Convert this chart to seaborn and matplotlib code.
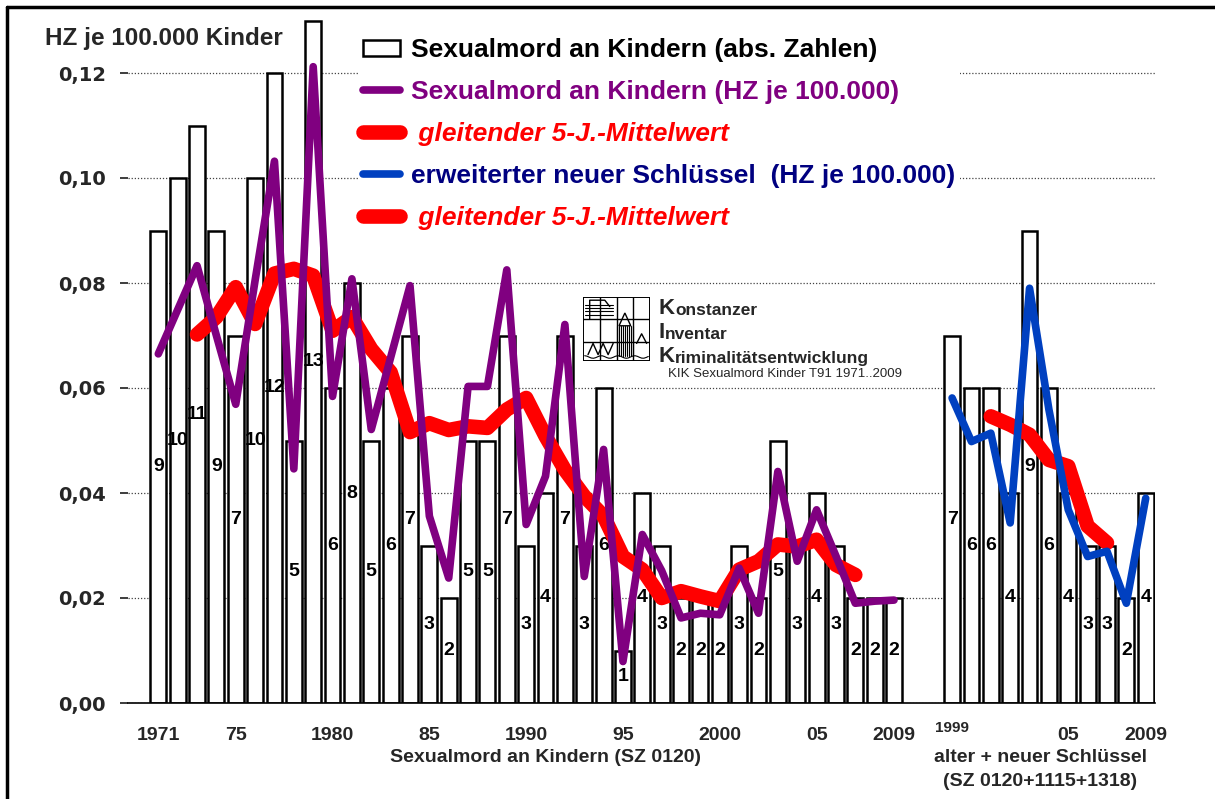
import numpy as np
import pandas as pd
import seaborn as sns
import matplotlib.pyplot as plt
from matplotlib.lines import Line2D
from matplotlib.patches import Patch, Rectangle, Polygon
from matplotlib.transforms import blended_transform_factory


# Sexualmord an Kindern (SZ 0120), 1971..2009
years_old = list(range(1971, 2010))
counts_old = [9, 10, 11, 9, 7, 10, 12, 5, 13, 6,
              8, 5, 6, 7, 3, 2, 5, 5, 7, 3,
              4, 7, 3, 6, 1, 4, 3, 2, 2, 2,
              3, 2, 5, 3, 4, 3, 2, 2, 2]
hz_old = [0.0665, 0.0749, 0.0833, 0.0700, 0.0569, 0.0805, 0.1032, 0.0446, 0.1212, 0.0584,
          0.0808, 0.0521, 0.0658, 0.0795, 0.0356, 0.0238, 0.0603, 0.0603, 0.0825, 0.0340,
          0.0432, 0.0721, 0.0241, 0.0483, 0.0079, 0.0321, 0.0252, 0.0162, 0.0171, 0.0168,
          0.0257, 0.0171, 0.0441, 0.0270, 0.0368, 0.0280, 0.0190, 0.0194, 0.0196]
ma_years_old = list(range(1973, 2008))
ma_old = [0.0702, 0.0735, 0.0792, 0.0722, 0.0818, 0.0827, 0.0814, 0.0709, 0.0735, 0.0674,
          0.0630, 0.0516, 0.0533, 0.0520, 0.0527, 0.0524, 0.0559, 0.0581, 0.0508, 0.0444,
          0.0394, 0.0356, 0.0279, 0.0254, 0.0200, 0.0213, 0.0203, 0.0194, 0.0254, 0.0270,
          0.0302, 0.0298, 0.0311, 0.0263, 0.0244]

# alter + neuer Schluessel (SZ 0120+1115+1318), 1999..2009
years_new = list(range(1999, 2010))
counts_new = [7, 6, 6, 4, 9, 6, 4, 3, 3, 2, 4]
hz_new = [0.0581, 0.0498, 0.0514, 0.0343, 0.0790, 0.0559, 0.0368, 0.0279, 0.0289, 0.0190, 0.0390]
ma_years_new = list(range(2001, 2008))
ma_new = [0.0546, 0.0530, 0.0511, 0.0463, 0.0451, 0.0337, 0.0305]

ytick_vals = [0.00, 0.02, 0.04, 0.06, 0.08, 0.10, 0.12]
xtick_years = [1971, 1975, 1980, 1985, 1990, 1995, 2000, 2005, 2009]
xtick_labels = ['1971', '75', '1980', '85', '1990', '95', '2000', '05', '2009']
xtick_years_new = [2005, 2009]
xtick_labels_new = ['05', '2009']

# Lage der Gruppen auf der x-Achse (2 leere Plaetze dazwischen)
OFFSET_NEW = 41


def pos_old(y):
    return [v - 1971 for v in y]


def pos_new(y):
    return [v - 1999 + OFFSET_NEW for v in y]


sns.set_theme(style="white")
plt.rcParams['font.family'] = ['Liberation Sans', 'DejaVu Sans']

W, H = 1215, 799
fig = plt.figure(figsize=(12.15, 7.99), dpi=100)
ax = fig.add_axes([128 / W, 1 - 703 / H, (1155 - 128) / W, (703 - 15.25) / H])

# Balken (absolute Zahlen)
df_bars = pd.DataFrame({'pos': pos_old(years_old) + pos_new(years_new),
                        'count': counts_old + counts_new})
sns.barplot(data=df_bars, x='pos', y='count', native_scale=True, width=0.82,
            color='white', edgecolor='black', linewidth=1.8, errorbar=None,
            saturation=1, ax=ax, zorder=2)
for p, c in zip(df_bars['pos'], df_bars['count']):
    ax.text(p, c / 2, str(c), ha='center', va='center', fontsize=14,
            fontweight='bold', color='black', zorder=3)

ax.set_ylim(0, 13.1)
ax.set_yticks(range(0, 13, 2))
ax.yaxis.grid(True, linestyle=(0, (1, 1.5)), color='#444444', linewidth=0.9)
ax.xaxis.grid(False)
ax.set_axisbelow(True)
ax.tick_params(axis='y', left=False, labelleft=False)
for s in ['top', 'right', 'left']:
    ax.spines[s].set_visible(False)
ax.spines['bottom'].set_color('black')
ax.spines['bottom'].set_linewidth(1.2)
ax.set_xlabel('')
ax.set_ylabel('')

# Haeufigkeitszahlen
ax2 = ax.twinx()
sns.lineplot(x=pos_old(ma_years_old), y=ma_old, ax=ax2, color='#FF0000', linewidth=10.5,
             solid_capstyle='round', solid_joinstyle='round', estimator=None)
sns.lineplot(x=pos_new(ma_years_new), y=ma_new, ax=ax2, color='#FF0000', linewidth=10.5,
             solid_capstyle='round', solid_joinstyle='round', estimator=None)
sns.lineplot(x=pos_old(years_old), y=hz_old, ax=ax2, color='#800080', linewidth=5.5,
             solid_capstyle='round', solid_joinstyle='round', estimator=None)
sns.lineplot(x=pos_new(years_new), y=hz_new, ax=ax2, color='#0040C0', linewidth=5.5,
             solid_capstyle='round', solid_joinstyle='round', estimator=None)
ax2.set_ylim(0, 0.131)
ax2.yaxis.tick_left()
ax2.set_yticks(ytick_vals)
ax2.set_yticklabels([f'{v:.2f}'.replace('.', ',') for v in ytick_vals],
                    fontsize=14, fontweight='bold', family='DejaVu Sans')
ax2.tick_params(axis='y', length=0, pad=16)
ax2.grid(False)
for s in ax2.spines.values():
    s.set_visible(False)
ax2.set_xlabel('')
ax2.set_ylabel('')

ax.set_xlim(-1.565, 51.48)
ax.set_xticks(pos_old(xtick_years) + pos_new(xtick_years_new))
ax.set_xticklabels(xtick_labels + xtick_labels_new, fontsize=14, fontweight='bold')
ax.tick_params(axis='x', length=0, pad=17)
ax.text(pos_new([1999])[0], 1 - 728 / H, '1999',
        transform=blended_transform_factory(ax.transData, fig.transFigure),
        fontsize=11, fontweight='bold', ha='center', va='center')

# Legende
handles = [Patch(facecolor='white', edgecolor='black', linewidth=1.8),
           Line2D([], [], color='#800080', linewidth=5.5, solid_capstyle='round'),
           Line2D([], [], color='#FF0000', linewidth=10.5, solid_capstyle='round'),
           Line2D([], [], color='#0040C0', linewidth=5.5, solid_capstyle='round'),
           Line2D([], [], color='#FF0000', linewidth=10.5, solid_capstyle='round')]
labels = ['Sexualmord an Kindern (abs. Zahlen)',
          'Sexualmord an Kindern (HZ je 100.000)',
          ' gleitender 5-J.-Mittelwert',
          'erweiterter neuer Schlüssel  (HZ je 100.000)',
          ' gleitender 5-J.-Mittelwert']
leg = ax2.legend(handles, labels, loc='upper left', bbox_to_anchor=(358 / W, 1 - 33 / H),
                 bbox_transform=fig.transFigure, fontsize=19, frameon=True,
                 facecolor='white', edgecolor='none', framealpha=1, fancybox=False,
                 handlelength=1.4, handleheight=0.6, handletextpad=0.4,
                 labelspacing=0.68, borderpad=0.2, borderaxespad=0)
text_colors = ['black', '#800080', '#FF0000', '#000080', '#FF0000']
for t, c in zip(leg.get_texts(), text_colors):
    t.set_color(c)
    t.set_fontweight('bold')
for i in (2, 4):
    leg.get_texts()[i].set_style('italic')

# Titel der y-Achse
fig.text(45 / W, 1 - 38 / H, 'HZ je 100.000 Kinder', fontsize=17.5, fontweight='bold',
         ha='left', va='center')

# Beschriftung unter der x-Achse
fig.text(545 / W, 1 - 757 / H, 'Sexualmord an Kindern (SZ 0120)', fontsize=14,
         fontweight='bold', ha='center', va='center')
fig.text(1040 / W, 1 - 757 / H, 'alter + neuer Schlüssel', fontsize=14,
         fontweight='bold', ha='center', va='center')
fig.text(1040 / W, 1 - 782 / H, '(SZ 0120+1115+1318)', fontsize=14,
         fontweight='bold', ha='center', va='center')

# KIK-Logo (vereinfacht)
lax = fig.add_axes([583 / W, 1 - 361 / H, 67 / W, 64 / H])
lax.set_xlim(0, 4)
lax.set_ylim(0, 4)
lax.axis('off')
lax.add_patch(Rectangle((0.02, 0.02), 3.96, 3.96, fill=False, edgecolor='black', lw=1.4))
for xv in (1, 2, 3):
    lax.plot([xv, xv], [0, 4], color='black', lw=1)
for yv in (1.2, 2.6):
    lax.plot([0, 4], [yv, yv], color='black', lw=1)
for yv in (2.9, 3.1, 3.3, 3.5):
    lax.plot([0.1, 1.8], [yv, yv], color='black', lw=0.8)
lax.plot([0.4, 0.4, 1.3, 1.6], [2.6, 3.8, 3.8, 3.4], color='black', lw=1)
lax.add_patch(Polygon([[2.15, 2.2], [2.5, 3.0], [2.85, 2.2]], fill=False, edgecolor='black', lw=1))
for xv in np.linspace(2.0, 3.0, 9):
    lax.plot([xv, xv], [0.3, 2.2], color='black', lw=0.8)
lax.plot([0.3, 0.6, 0.9, 1.2, 1.5, 1.8], [0.4, 1.1, 0.4, 1.1, 0.4, 1.1], color='black', lw=1)
lax.plot([3.2, 3.5, 3.8], [1.1, 1.7, 1.1], color='black', lw=1)
lax.plot(np.linspace(0.1, 3.9, 30), 0.25 + 0.08 * np.cos(np.linspace(0, 24, 30)), color='black', lw=0.8)

# Schriftzug neben dem Logo
rows = [('K', 'onstanzer', 314), ('I', 'nventar', 338), ('K', 'riminalitätsentwicklung', 362)]
for big, rest, yb in rows:
    t = fig.text(659 / W, 1 - yb / H, big, fontsize=16, fontweight='bold', va='baseline')
    ax.annotate(rest, xy=(1, 0), xycoords=t, xytext=(0, 1), textcoords='offset points',
                fontsize=12.5, fontweight='bold', va='bottom', annotation_clip=False)
fig.text(668 / W, 1 - 377 / H, 'KIK Sexualmord Kinder T91 1971..2009', fontsize=9.5,
         va='baseline')

# Rahmen oben und links
fig.add_artist(Line2D([7 / W, 1], [1 - 7 / H, 1 - 7 / H], color='black', lw=2.5))
fig.add_artist(Line2D([7 / W, 7 / W], [0, 1 - 7 / H], color='black', lw=2.5))

plt.savefig('out.png', dpi=100)
plt.close()
